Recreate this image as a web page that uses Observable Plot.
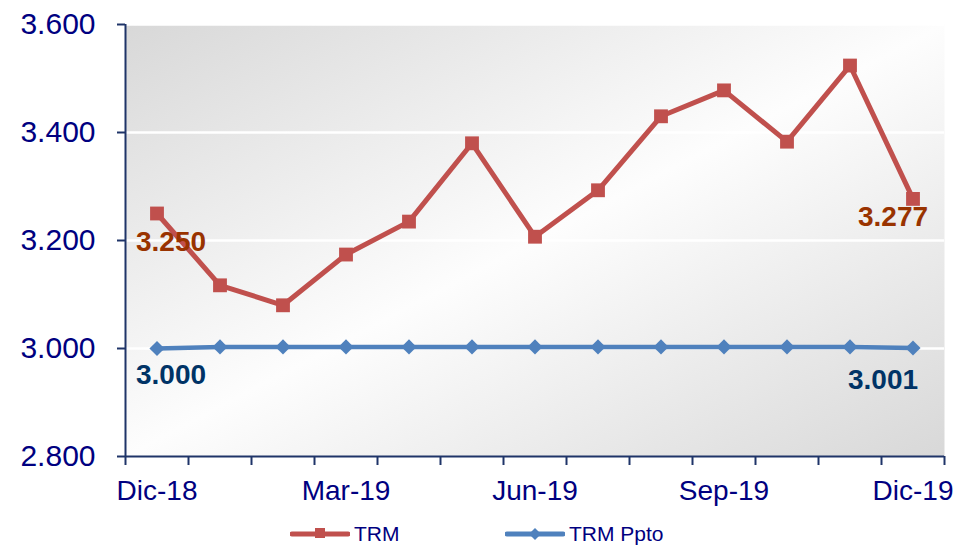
<!DOCTYPE html>
<html>
<head>
<meta charset="utf-8">
<script src="https://cdn.jsdelivr.net/npm/d3@7"></script>
<script src="https://cdn.jsdelivr.net/npm/@observablehq/plot@0.6"></script>
<style>
  body { margin: 0; background: #fff; font-family: "Liberation Sans", Arial, sans-serif; }
  #legend { position: relative; width: 960px; height: 37px; }
  .item { position: absolute; top: 0; height: 37px; display: flex; align-items: center; font-size: 21px; color: #000080; }
  .item svg { margin-right: 4px; }
</style>
</head>
<body>
<div id="chart"></div>
<div id="legend"></div>
<script>
const months = ["Dic-18","Ene-19","Feb-19","Mar-19","Abr-19","May-19","Jun-19","Jul-19","Ago-19","Sep-19","Oct-19","Nov-19","Dic-19"];
const trm  = [3250, 3117, 3080, 3174, 3235, 3380, 3207, 3293, 3430, 3478, 3383, 3524, 3277];
const ppto = [3000, 3003, 3003, 3003, 3003, 3003, 3003, 3003, 3003, 3003, 3003, 3003, 3001];
const yTicks = [2800, 3000, 3200, 3400, 3600];
const xLabelIdx = [0, 3, 6, 9, 12];
const seriesNames = ["TRM", "TRM Ppto"];

const es = d3.formatLocale({decimal: ",", thousands: ".", grouping: [3], currency: ["$", ""]});
const fmt = es.format(",");

const trmData = trm.map((v, i) => ({i, v}));
const pptoData = ppto.map((v, i) => ({i, v}));
const last = months.length - 1;
const boundaries = d3.range(-0.5, months.length, 1);

const navy = "#000080";
const axisCol = "#1f3468";
const red = "#c0504d";
const blue = "#4f81bd";

const chart = Plot.plot({
  width: 960,
  height: 515,
  marginTop: 24,
  marginBottom: 59,
  marginLeft: 125,
  marginRight: 16,
  style: {fontFamily: "'Liberation Sans', Arial, sans-serif", background: "transparent"},
  x: {domain: [-0.5, months.length - 0.5]},
  y: {domain: [2800, 3600]},
  marks: [
    Plot.frame({fill: "#eeeeee", stroke: null}),
    Plot.ruleY(yTicks.slice(1), {stroke: "#ffffff", strokeWidth: 2.5}),
    Plot.axisY({ticks: yTicks, tickFormat: fmt, tickSize: 8, tickPadding: 22, fontSize: 30, color: navy, stroke: axisCol, strokeWidth: 2, label: null}),
    Plot.axisX({ticks: boundaries, tickFormat: () => "", tickSize: 9, stroke: axisCol, strokeWidth: 2, label: null}),
    Plot.axisX({ticks: xLabelIdx, tickFormat: i => months[i], tickSize: 0, tickPadding: 24, fontSize: 28, color: navy, label: null}),
    Plot.ruleY([2800], {stroke: axisCol, strokeWidth: 2}),
    Plot.ruleX([-0.5], {stroke: axisCol, strokeWidth: 2}),
    Plot.line(trmData, {x: "i", y: "v", stroke: red, strokeWidth: 5}),
    Plot.dot(trmData, {x: "i", y: "v", symbol: "square", r: 7.8, fill: red, stroke: null}),
    Plot.line(pptoData, {x: "i", y: "v", stroke: blue, strokeWidth: 4.5}),
    Plot.dot(pptoData, {x: "i", y: "v", symbol: "diamond2", r: 6.8, fill: blue, stroke: null}),
    Plot.text([trmData[0]], {x: "i", y: "v", text: d => fmt(d.v), dx: 14, dy: 29, fontSize: 28, fontWeight: "bold", fill: "#993300"}),
    Plot.text([trmData[last]], {x: "i", y: "v", text: d => fmt(d.v), dx: -20, dy: 18, fontSize: 28, fontWeight: "bold", fill: "#993300"}),
    Plot.text([pptoData[0]], {x: "i", y: "v", text: d => fmt(d.v), dx: 14, dy: 27, fontSize: 28, fontWeight: "bold", fill: "#003366"}),
    Plot.text([pptoData[last]], {x: "i", y: "v", text: d => fmt(d.v), dx: -30, dy: 32, fontSize: 28, fontWeight: "bold", fill: "#003366"})
  ]
});

// gradient background for the plot area
const svg = d3.select(chart);
const defs = svg.insert("defs", ":first-child");
const grad = defs.append("linearGradient").attr("id", "bgGrad")
  .attr("x1", "0").attr("y1", "0").attr("x2", "1").attr("y2", "1");
grad.append("stop").attr("offset", "0").attr("stop-color", "#d8d8d8");
grad.append("stop").attr("offset", "0.5").attr("stop-color", "#fdfdfd");
grad.append("stop").attr("offset", "1").attr("stop-color", "#d8d8d8");
svg.selectAll('[aria-label="frame"]').each(function() {
  const el = d3.select(this);
  el.attr("fill", "url(#bgGrad)");
  el.selectAll("rect").attr("fill", "url(#bgGrad)");
});

document.getElementById("chart").appendChild(chart);

// legend
const legend = d3.select("#legend");
const items = [
  {name: seriesNames[0], color: red, left: 290, symbol: "square"},
  {name: seriesNames[1], color: blue, left: 505, symbol: "diamond"}
];
items.forEach(it => {
  const div = legend.append("div").attr("class", "item").style("left", it.left + "px");
  const s = div.append("svg").attr("width", 60).attr("height", 14);
  s.append("line").attr("x1", 2).attr("x2", 58).attr("y1", 7).attr("y2", 7)
    .attr("stroke", it.color).attr("stroke-width", 5).attr("stroke-linecap", "round");
  if (it.symbol === "square") {
    s.append("rect").attr("x", 25).attr("y", 1).attr("width", 10).attr("height", 10).attr("fill", it.color);
  } else {
    s.append("path").attr("d", "M30,1 L36,7 L30,13 L24,7 Z").attr("fill", it.color);
  }
  div.append("span").text(it.name);
});
</script>
</body>
</html>
